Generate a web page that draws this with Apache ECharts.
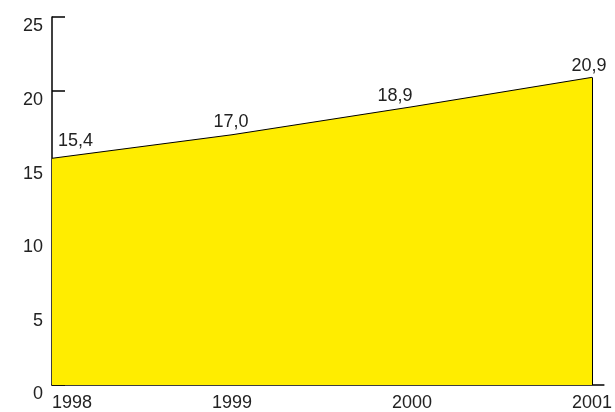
<!DOCTYPE html>
<html><head><meta charset="utf-8">
<script src="https://cdn.jsdelivr.net/npm/echarts@6/dist/echarts.min.js"></script>
<style>html,body{margin:0;padding:0;background:#fff}#c{width:615px;height:412px}</style>
</head><body><div id="c"></div>
<script>
var years = [1998, 1999, 2000, 2001];
var values = [15.4, 17.0, 18.9, 20.9];
var yTicks = [0, 5, 10, 15, 20, 25];

var chart = echarts.init(document.getElementById('c'));
var font = 'Liberation Sans, Arial, Helvetica, sans-serif';
var labelOffsets = [[6, -4], [-1, 0], [-17, 2], [-3, 2]];
var labelAligns = ['left', 'center', 'center', 'center'];
var data = years.map(function (y, i) {
  return {
    value: [y, values[i]],
    label: {
      show: true, position: 'top', distance: 4,
      align: labelAligns[i], offset: labelOffsets[i],
      color: '#222', fontFamily: font, fontSize: 18,
      formatter: values[i].toFixed(1).replace('.', ',')
    }
  };
});
chart.setOption({
  animation: false,
  grid: { left: 52, top: 17, right: 5, bottom: 22 },
  xAxis: {
    type: 'value', min: years[0], max: 2001.066, interval: 1,
    axisLine: { lineStyle: { color: '#000', width: 1.5 } },
    axisTick: { show: false },
    splitLine: { show: false },
    axisLabel: {
      color: '#222', fontFamily: font, fontSize: 18, margin: 9,
      alignMinLabel: 'left',
      formatter: function (v) { return years.indexOf(v) >= 0 ? String(v) : ''; }
    }
  },
  yAxis: {
    type: 'value', min: yTicks[0], max: yTicks[yTicks.length - 1], interval: 5,
    axisLine: { show: true, lineStyle: { color: '#000', width: 1.5 } },
    axisTick: { show: true, inside: true, length: 13, lineStyle: { color: '#000', width: 1.5 } },
    splitLine: { show: false },
    axisLabel: { color: '#222', fontFamily: font, fontSize: 18, margin: 9, verticalAlign: 'top', lineHeight: 19 }
  },
  series: [{
    type: 'line', data: data, symbol: 'circle', symbolSize: 0, showSymbol: true,
    itemStyle: { color: '#000' },
    lineStyle: { color: '#000', width: 1 },
    areaStyle: { color: '#FFED00', opacity: 1 },
    label: { show: true },
    markLine: {
      symbol: 'none', silent: true, label: { show: false },
      lineStyle: { color: '#000', width: 1, type: 'solid' },
      data: [[{ coord: [years[3], values[3]] }, { coord: [years[3], 0] }]]
    }
  }]
});
</script></body></html>
